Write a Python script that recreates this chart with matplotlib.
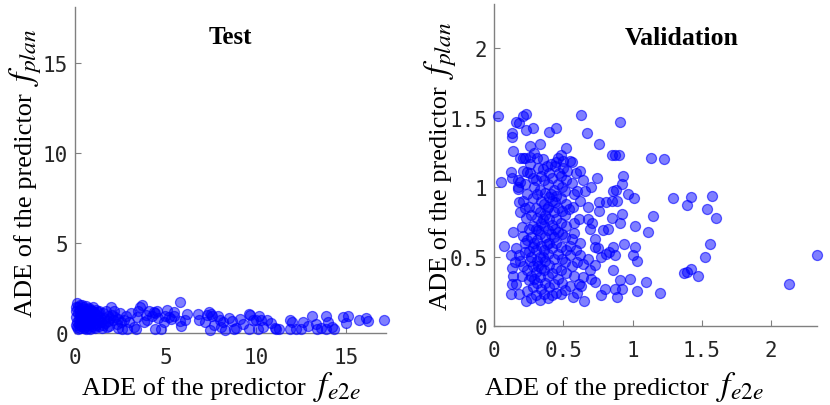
import matplotlib
matplotlib.use("Agg")
import matplotlib.pyplot as plt

# ---- Test panel: values ----
test_band = [
    (0.05, 1.20), (0.08, 0.90), (0.10, 0.60), (0.12, 0.32), (0.13, 1.67), (0.15, 1.45),
    (0.18, 1.10), (0.20, 0.80), (0.22, 0.50), (0.25, 0.28), (0.28, 1.30), (0.30, 1.00),
    (0.32, 0.70), (0.35, 0.40), (0.38, 1.55), (0.40, 1.15), (0.42, 0.85), (0.45, 0.55),
    (0.48, 0.28), (0.50, 1.35), (0.52, 1.05), (0.55, 0.75), (0.58, 0.45), (0.60, 0.22),
    (0.62, 1.50), (0.65, 1.20), (0.68, 0.90), (0.70, 0.60), (0.72, 0.30), (0.75, 1.40),
    (0.78, 1.10), (0.80, 0.80), (0.82, 0.50), (0.85, 0.25), (0.88, 1.30), (0.90, 1.00),
    (0.93, 0.70), (0.96, 0.40), (1.00, 1.45), (1.03, 1.15), (1.06, 0.85), (1.10, 0.55),
    (1.13, 0.28), (1.17, 1.30), (1.20, 1.00), (1.25, 0.70), (1.30, 0.40), (1.35, 1.20),
    (1.40, 0.90), (1.45, 0.60), (1.50, 0.30), (1.55, 1.10), (1.60, 0.85), (1.65, 0.55),
    (1.70, 1.20), (1.80, 0.95), (1.85, 0.65), (1.90, 0.40), (2.00, 1.43), (2.05, 1.00),
    (2.10, 0.70), (2.20, 0.90), (2.30, 0.50), (2.40, 0.80), (2.50, 1.10), (2.60, 0.25),
    (2.70, 0.70), (2.80, 0.95), (2.90, 0.20), (3.00, 0.60), (0.03, 0.45), (0.06, 1.45),
    (0.25, 1.55), (0.45, 1.45), (0.70, 1.35), (0.95, 1.25), (1.15, 0.45), (1.35, 0.75),
    (1.55, 0.45), (1.75, 0.35), (1.95, 0.85), (2.15, 1.20), (2.35, 0.30), (2.55, 0.60),
    (0.15, 0.25), (0.35, 0.95), (0.55, 0.35), (0.75, 0.95), (1.05, 0.35), (1.25, 1.15),
]
test_mid = [
    (3.10, 1.10), (3.25, 0.35), (3.40, 0.90), (3.50, 1.25), (3.60, 1.43), (3.70, 1.55),
    (3.80, 0.60), (3.90, 1.00), (4.00, 0.75), (4.10, 1.20), (4.25, 0.95), (4.35, 1.15),
    (4.45, 1.10), (4.55, 1.20), (4.60, 0.85), (4.40, 0.25), (4.75, 0.25), (3.35, 0.25),
    (5.10, 1.30), (5.20, 0.90), (5.30, 0.80), (5.45, 1.15), (5.50, 0.97), (5.80, 1.74),
    (5.80, 0.64), (5.85, 0.40), (6.10, 0.70), (6.20, 1.06), (5.00, 0.95), (4.90, 0.60),
]
test_right = [
    (6.80, 1.06), (6.85, 0.75), (7.20, 0.60), (7.30, 1.00), (7.40, 1.15), (7.50, 1.05),
    (7.45, 0.15), (7.60, 0.95), (7.70, 0.45), (7.90, 0.95), (8.00, 0.75), (8.20, 0.60),
    (8.30, 0.15), (8.10, 0.35), (8.50, 0.85), (8.70, 0.65), (8.90, 0.30), (8.80, 0.20),
    (9.10, 0.80), (9.30, 0.50), (9.60, 1.06), (9.70, 1.00), (9.85, 0.70), (10.00, 0.75),
    (10.20, 0.95), (10.30, 0.70), (10.40, 0.35), (10.10, 0.25), (9.60, 0.25), (10.60, 0.70),
    (10.85, 0.55), (11.10, 0.25), (11.30, 0.20), (11.05, 0.28), (11.90, 0.75), (12.00, 0.60),
    (11.90, 0.25), (12.20, 0.25), (12.50, 0.20), (12.60, 0.60), (12.90, 0.40), (13.10, 0.95),
    (13.30, 0.50), (13.40, 0.25), (13.60, 0.30), (13.90, 0.95), (14.00, 0.60), (14.20, 0.35),
    (14.30, 0.25), (13.90, 0.25), (14.80, 0.90), (15.10, 0.95), (15.00, 0.55), (15.70, 0.75),
    (16.10, 0.82), (16.20, 0.69), (17.10, 0.70),
]

# ---- Validation panel ----
val_sparse = [
    (0.03, 1.51), (0.05, 1.04), (0.07, 0.58), (0.63, 1.52), (0.67, 1.39), (0.91, 1.47),
    (0.76, 1.31), (0.85, 1.23), (0.87, 1.23), (0.90, 1.23), (1.13, 1.21), (1.23, 1.20),
    (0.93, 1.08), (0.92, 1.02), (0.88, 0.98), (0.86, 0.97), (0.97, 0.95), (1.01, 0.92),
    (1.29, 0.92), (1.42, 0.93), (1.39, 0.87), (1.57, 0.94), (1.54, 0.84), (1.60, 0.78),
    (1.15, 0.79), (1.02, 0.72), (1.11, 0.68), (0.91, 0.74), (0.92, 0.81), (0.82, 0.70),
    (0.79, 0.69), (0.85, 0.78), (0.76, 0.89), (0.76, 0.83), (0.81, 0.89), (0.85, 0.90),
    (0.89, 0.90), (0.68, 0.86), (0.62, 0.90), (0.61, 0.77), (0.68, 0.77), (0.69, 0.70),
    (0.73, 0.63), (0.73, 0.57), (0.75, 0.56), (0.94, 0.59), (1.02, 0.57), (1.00, 0.51),
    (1.03, 0.47), (1.56, 0.59), (1.52, 0.50), (1.37, 0.38), (1.39, 0.39), (1.42, 0.41),
    (1.47, 0.36), (2.33, 0.51), (2.13, 0.30), (1.10, 0.32), (1.20, 0.24), (1.03, 0.25),
    (0.98, 0.34), (0.91, 0.33), (0.92, 0.27), (0.89, 0.21), (0.87, 0.27), (0.86, 0.40),
    (0.86, 0.57), (0.83, 0.53), (0.81, 0.52), (0.77, 0.50), (0.87, 0.51), (0.77, 0.22),
    (0.80, 0.27), (0.70, 0.34), (0.73, 0.32), (0.69, 0.40), (0.73, 0.44), (0.64, 0.35),
    (0.63, 0.29), (0.65, 0.18), (0.60, 0.24), (0.57, 0.21), (0.55, 0.29), (0.56, 0.43),
    (0.55, 0.51), (0.55, 0.58), (0.56, 0.63), (0.64, 0.45), (0.62, 0.51), (0.68, 0.48),
    (0.71, 0.74), (0.74, 1.07), (0.70, 1.00), (0.66, 0.97), (0.62, 1.12), (0.64, 1.05),
]
val_dense = [
    (0.12, 0.23), (0.13, 0.30), (0.14, 0.36), (0.13, 0.42), (0.15, 0.46), (0.12, 0.51),
    (0.14, 0.68), (0.12, 1.11), (0.13, 1.07), (0.14, 1.26), (0.13, 1.36), (0.13, 1.39),
    (0.16, 1.47), (0.18, 1.46), (0.21, 1.51), (0.23, 1.53), (0.23, 1.41), (0.28, 1.43),
    (0.40, 1.40), (0.45, 1.43), (0.26, 1.30), (0.33, 1.31), (0.19, 1.21), (0.21, 1.21),
    (0.22, 1.21), (0.52, 1.28), (0.48, 1.23), (0.46, 1.21), (0.50, 1.19), (0.55, 1.19),
    (0.56, 1.18), (0.21, 1.12), (0.24, 1.11), (0.26, 1.10), (0.19, 1.04), (0.17, 1.00),
    (0.18, 0.23), (0.18, 0.51), (0.19, 0.47), (0.21, 0.43), (0.19, 0.82), (0.18, 0.89),
    (0.21, 0.90), (0.17, 0.99), (0.22, 1.02), (0.17, 1.05), (0.20, 0.71), (0.22, 0.60),
    (0.23, 0.18), (0.24, 0.25), (0.25, 0.33), (0.24, 0.40), (0.26, 0.47), (0.25, 0.54),
    (0.24, 0.62), (0.25, 0.70), (0.23, 0.78), (0.25, 0.86), (0.24, 0.95), (0.26, 1.17),
    (0.27, 0.20), (0.28, 0.28), (0.27, 0.36), (0.28, 0.43), (0.27, 0.50), (0.28, 0.57),
    (0.27, 0.64), (0.28, 0.72), (0.27, 0.80), (0.28, 0.92), (0.29, 1.00), (0.28, 1.07),
    (0.30, 0.22), (0.31, 0.31), (0.30, 0.39), (0.31, 0.47), (0.30, 0.55), (0.31, 0.62),
    (0.30, 0.70), (0.31, 0.78), (0.30, 0.85), (0.31, 0.95), (0.30, 1.05), (0.31, 1.21),
    (0.33, 0.19), (0.34, 0.27), (0.33, 0.35), (0.34, 0.42), (0.33, 0.50), (0.34, 0.58),
    (0.33, 0.66), (0.34, 0.74), (0.33, 0.82), (0.34, 0.90), (0.33, 0.98), (0.34, 1.08),
    (0.36, 0.23), (0.37, 0.31), (0.36, 0.40), (0.37, 0.47), (0.36, 0.55), (0.37, 0.64),
    (0.36, 0.72), (0.37, 0.80), (0.36, 0.88), (0.37, 0.96), (0.36, 1.05), (0.35, 1.20),
    (0.39, 0.20), (0.40, 0.28), (0.39, 0.36), (0.40, 0.44), (0.39, 0.52), (0.40, 0.60),
    (0.39, 0.69), (0.40, 0.77), (0.39, 0.86), (0.40, 0.93), (0.39, 1.02), (0.40, 1.10),
    (0.42, 0.22), (0.43, 0.30), (0.42, 0.38), (0.43, 0.48), (0.42, 0.56), (0.43, 0.64),
    (0.42, 0.73), (0.43, 0.82), (0.42, 0.90), (0.43, 0.98), (0.42, 1.07), (0.44, 1.15),
    (0.45, 0.24), (0.46, 0.34), (0.45, 0.42), (0.46, 0.52), (0.45, 0.60), (0.46, 0.68),
    (0.45, 0.77), (0.46, 0.85), (0.45, 0.94), (0.46, 1.02), (0.47, 1.10), (0.45, 1.18),
    (0.48, 0.23), (0.49, 0.31), (0.48, 0.40), (0.49, 0.48), (0.48, 0.57), (0.49, 0.66),
    (0.48, 0.74), (0.49, 0.83), (0.48, 0.92), (0.49, 1.00), (0.48, 1.08), (0.50, 1.14),
    (0.51, 0.26), (0.52, 0.38), (0.51, 0.46), (0.52, 0.55), (0.51, 0.64), (0.52, 0.72),
    (0.51, 0.80), (0.52, 0.88), (0.51, 0.97), (0.52, 1.05), (0.53, 1.12), (0.54, 0.84),
    (0.57, 0.86), (0.58, 0.95), (0.56, 1.03), (0.59, 1.10), (0.58, 0.74), (0.58, 0.67),
    (0.59, 0.55), (0.60, 0.46), (0.58, 0.36), (0.61, 0.30), (0.60, 0.97), (0.62, 0.60),
    (0.16, 0.30), (0.20, 0.36), (0.22, 0.53), (0.16, 0.56), (0.21, 0.65), (0.22, 0.85),
    (0.26, 1.22), (0.29, 1.25), (0.32, 1.14), (0.35, 1.13), (0.38, 1.15), (0.41, 1.17),
    (0.29, 0.34), (0.32, 0.43), (0.35, 0.50), (0.38, 0.59), (0.41, 0.66), (0.44, 0.70),
    (0.29, 0.60), (0.32, 0.69), (0.35, 0.77), (0.38, 0.84), (0.41, 0.95), (0.44, 0.89),
]

face = (0, 0, 1, 0.5)
edge = (0, 0, 1, 0.6)
spine_grey = "#808080"
tick_grey = "#262626"

plt.rcParams["mathtext.fontset"] = "stix"

fig = plt.figure(figsize=(8.3, 4.06), dpi=100)
ax1 = fig.add_axes([0.0904, 0.1773, 0.3747, 0.803])
ax2 = fig.add_axes([0.5952, 0.1946, 0.389, 0.793])


def scatter_panel(ax, groups):
    for pts in groups:
        xs = [p[0] for p in pts]
        ys = [p[1] for p in pts]
        ax.scatter(xs, ys, s=52, facecolors=face, edgecolors=edge,
                   linewidths=0.9, clip_on=False, zorder=3)


def axis_label(fig, x0, y0, sub, rotated=False):
    # plain words, then a larger math part, like the reference
    rot = 90 if rotated else 0
    words = fig.text(x0, y0, "ADE of the predictor", fontsize=19,
                     family="Liberation Serif", rotation=rot,
                     rotation_mode="anchor", ha="left", va="baseline")
    if rotated:
        plt.annotate(r"$f_{%s}$" % sub, xy=(x0, 1.0),
                     xycoords=(fig.transFigure, words),
                     xytext=(0, 5), textcoords="offset points",
                     fontsize=24, rotation=90, rotation_mode="anchor",
                     ha="left", va="baseline", annotation_clip=False)
    else:
        plt.annotate(r"$f_{%s}$" % sub, xy=(1.0, y0),
                     xycoords=(words, fig.transFigure),
                     xytext=(5, 0), textcoords="offset points",
                     fontsize=24, ha="left", va="baseline",
                     annotation_clip=False)


def style_axes(ax, xticks, xlabels, yticks, ylabels):
    for side in ["top", "right"]:
        ax.spines[side].set_visible(False)
    for side in ["left", "bottom"]:
        ax.spines[side].set_color(spine_grey)
        ax.spines[side].set_linewidth(1.0)
    ax.set_xticks(xticks)
    ax.set_xticklabels(xlabels)
    ax.set_yticks(yticks)
    ax.set_yticklabels(ylabels)
    ax.tick_params(direction="in", length=4, color=spine_grey, labelcolor=tick_grey,
                   labelsize=15)
    ax.tick_params(axis="x", pad=10)
    ax.tick_params(axis="y", pad=5)
    for lab in ax.get_xticklabels() + ax.get_yticklabels():
        lab.set_fontfamily("DejaVu Sans Mono")


scatter_panel(ax1, [test_band, test_mid, test_right])
ax1.set_xlim(0, 17.2)
ax1.set_ylim(0, 18.1)
style_axes(ax1, [0, 5, 10, 15], ["0", "5", "10", "15"],
           [0, 5, 10, 15], ["0", "5", "10", "15"])
ax1.text(0.5, 0.908, "Test", transform=ax1.transAxes, ha="center", va="center",
         fontsize=18, fontweight="bold", family="Liberation Serif")

scatter_panel(ax2, [val_dense, val_sparse])
ax2.set_xlim(0, 2.33)
ax2.set_ylim(0, 2.32)
style_axes(ax2, [0, 0.5, 1, 1.5, 2], ["0", "0.5", "1", "1.5", "2"],
           [0, 0.5, 1, 1.5, 2], ["0", "0.5", "1", "1.5", "2"])
ax2.text(0.58, 0.897, "Validation", transform=ax2.transAxes, ha="center", va="center",
         fontsize=18.5, fontweight="bold", family="Liberation Serif")

# axis labels, placed in figure pixels / size
W, H = 830.0, 406.0
axis_label(fig, 82 / W, 1 - 395 / H, "e2e")
axis_label(fig, 485 / W, 1 - 395 / H, "e2e")
axis_label(fig, 32 / W, 1 - 317 / H, "plan", rotated=True)
axis_label(fig, 447 / W, 1 - 310 / H, "plan", rotated=True)

fig.savefig("out.png", dpi=100)
